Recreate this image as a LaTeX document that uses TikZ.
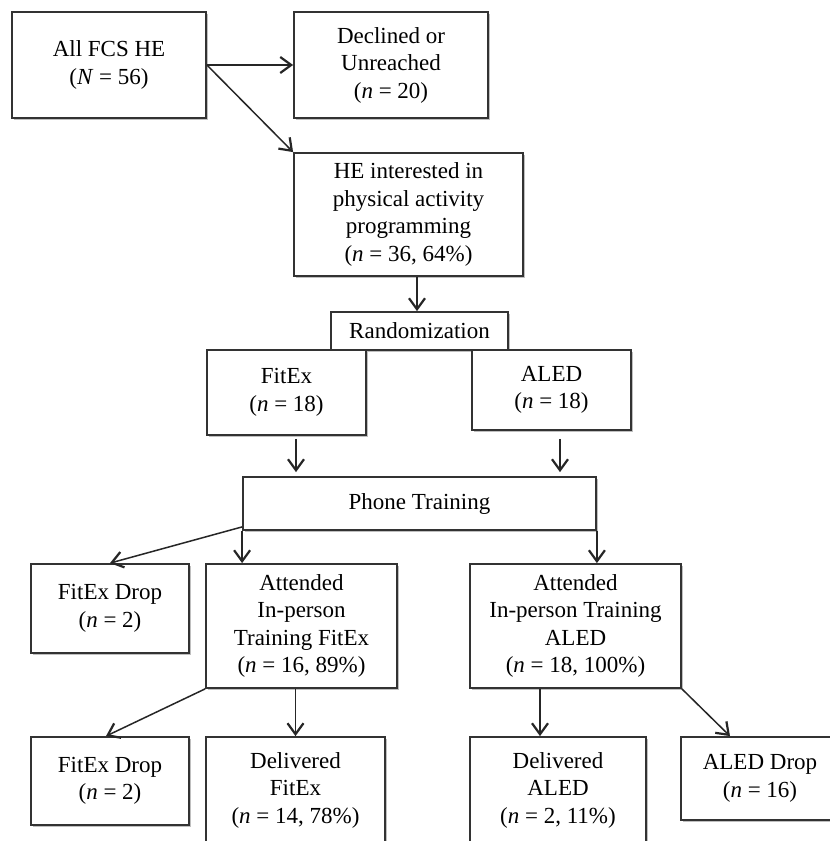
\documentclass[tikz,border=0pt]{standalone}
\usepackage{fontspec}
\setmainfont{Liberation Serif}
\usetikzlibrary{arrows.meta,shadows}
\begin{document}
\begin{tikzpicture}[x=1pt,y=-1pt,
  box/.style={draw=black!80, line width=1.8pt, fill=white, align=center, inner sep=0pt,
    drop shadow={shadow xshift=2pt, shadow yshift=-2pt, opacity=0.25, fill=black},
    font=\fontsize{23}{27.5}\selectfont},
  arr/.style={line width=1.5pt, draw=black!85, -{Straight Barb[length=11pt,width=16pt,line width=2.2pt]}}]
\path[use as bounding box, clip] (0,0) rectangle (830,841);
\fill[white] (0,0) rectangle (830,841);
% nodes
\node[box, minimum width=194pt, minimum height=106pt] (all) at (109,65) {All FCS HE\\(\textit{N} = 56)};
\node[box, minimum width=194pt, minimum height=106pt] (dec) at (391,65) {Declined or\\Unreached\\(\textit{n} = 20)};
\node[box, minimum width=229pt, minimum height=123pt] (int) at (408.5,214.5) {HE interested in\\physical activity\\programming\\(\textit{n} = 36, 64\%)};
\node[box, minimum width=177pt, minimum height=38pt] (rand) at (419.5,331) {Randomization};
\node[box, minimum width=159pt, minimum height=85pt] (fitex) at (286.5,392.5) {FitEx\\(\textit{n} = 18)};
\node[box, minimum width=159pt, minimum height=80pt] (aled) at (551.5,390) {ALED\\(\textit{n} = 18)};
\node[box, minimum width=353pt, minimum height=53pt] (pt) at (419.5,503.5) {Phone Training};
\node[box, minimum width=158pt, minimum height=89pt] (fd1) at (110,608.5) {FitEx Drop\\(\textit{n} = 2)};
\node[box, minimum width=191pt, minimum height=124pt] (attfit) at (301.5,626) {Attended\\In-person\\Training FitEx\\(\textit{n} = 16, 89\%)};
\node[box, minimum width=211pt, minimum height=124pt] (attaled) at (575.5,626) {Attended\\In-person Training\\ALED\\(\textit{n} = 18, 100\%)};
\node[box, minimum width=158pt, minimum height=88pt] (fd2) at (110,781) {FitEx Drop\\(\textit{n} = 2)};
\node[box, minimum width=179pt, minimum height=106pt] (delfit) at (295.5,790) {Delivered\\FitEx\\(\textit{n} = 14, 78\%)};
\node[box, minimum width=176pt, minimum height=106pt] (delaled) at (558,790) {Delivered\\ALED\\(\textit{n} = 2, 11\%)};
\node[box, minimum width=158pt, minimum height=83pt] (aleddrop) at (760,778.5) {ALED Drop\\(\textit{n} = 16)};
% connectors
\draw[arr] (all.east) -- (dec.west);
\draw[arr] (all.east) -- (int.north west);
\draw[arr] ([xshift=8.5pt]int.south) -- ([xshift=8.5pt]int.south |- rand.north);
\draw[arr] ([xshift=9.5pt,yshift=-3pt]fitex.south) -- ([xshift=9.5pt,yshift=4pt]fitex.south |- pt.north);
\draw[arr] ([xshift=8.5pt,yshift=-8pt]aled.south) -- ([xshift=8.5pt,yshift=4pt]aled.south |- pt.north);
\draw[arr] ([yshift=4pt]pt.south west) -- (fd1.north);
\draw[arr] (pt.south west) -- (pt.south west |- attfit.north);
\draw[arr] (pt.south east) -- (pt.south east |- attaled.north);
\draw[arr] (attfit.south west) -- ([xshift=-4pt]fd2.north);
\draw[arr] (attfit.south -| delfit.north) -- (delfit.north);
\draw[arr] ([xshift=-18pt]attaled.south -| delaled.north) -- ([xshift=-18pt]delaled.north);
\draw[arr] (attaled.south east) -- ([xshift=-30pt]aleddrop.north);
\end{tikzpicture}
\end{document}
